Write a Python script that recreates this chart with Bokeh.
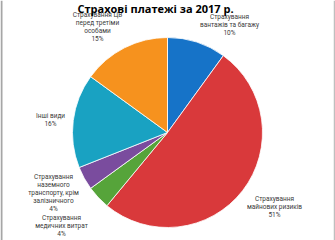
import math
from bokeh.plotting import figure
from bokeh.models import Range1d, Span, ColumnDataSource
from bokeh.core.properties import value
from bokeh.embed import file_html
from bokeh.resources import INLINE

title = "Страхові платежі за 2017 р."
categories = [
    "Страхування\nвантажів та багажу",
    "Страхування\nмайнових ризиків",
    "Страхування\nмедичних витрат",
    "Страхування\nназемного\nтранспорту, крім\nзалізничного",
    "Інші види",
    "Страхування ЦВ\nперед третіми\nособами",
]
shares = [10, 51, 4, 4, 16, 15]
colors = ["#1673c8", "#d9393b", "#56a43a", "#7a4c9e", "#19a2c2", "#f6921e"]

W, H = 335, 240
cx, cy, r = 167, H - 132, 95

# label anchor positions (pixel coords from top-left)
label_pos = [(229, 24), (274, 206), (61, 225), (53, 192), (50, 119), (97, 26)]

p = figure(width=W, height=H, output_backend="svg", toolbar_location=None,
           x_range=Range1d(0, W), y_range=Range1d(0, H), min_border=0)
p.axis.visible = False
p.grid.visible = False
p.outline_line_color = None
p.background_fill_color = "white"

total = sum(shares)
starts, ends = [], []
acc = 0.0
for s in shares:
    a0 = math.pi / 2 - 2 * math.pi * acc / total
    acc += s
    a1 = math.pi / 2 - 2 * math.pi * acc / total
    starts.append(a0)
    ends.append(a1)

src = ColumnDataSource(dict(start=starts, end=ends, color=colors))
p.wedge(x=cx, y=cy, radius=r, start_angle="start", end_angle="end",
        direction="clock", fill_color="color", line_color="white",
        line_width=0.8, source=src)

texts = [f"{c}\n{s}%" for c, s in zip(categories, shares)]
lx = [x for x, y in label_pos]
ly = [H - y for x, y in label_pos]
p.text(x=lx, y=ly, text=texts, text_align="center", text_baseline="middle",
       text_font=value("Roboto"), text_font_size="6.5px", text_color="#3a3a3a",
       text_line_height=1.0)

p.text(x=[155], y=[H - 8], text=[title], text_align="center",
       text_baseline="alphabetic", text_font=value("Open Sans"),
       text_font_style="bold", text_font_size="11px", text_color="#000000")

p.add_layout(Span(location=1, dimension="height", line_color="#a6a6a6", line_width=2))
p.add_layout(Span(location=W - 1, dimension="height", line_color="#bfbfbf", line_width=1.5))

open("out.html", "w").write(file_html(p, INLINE))
